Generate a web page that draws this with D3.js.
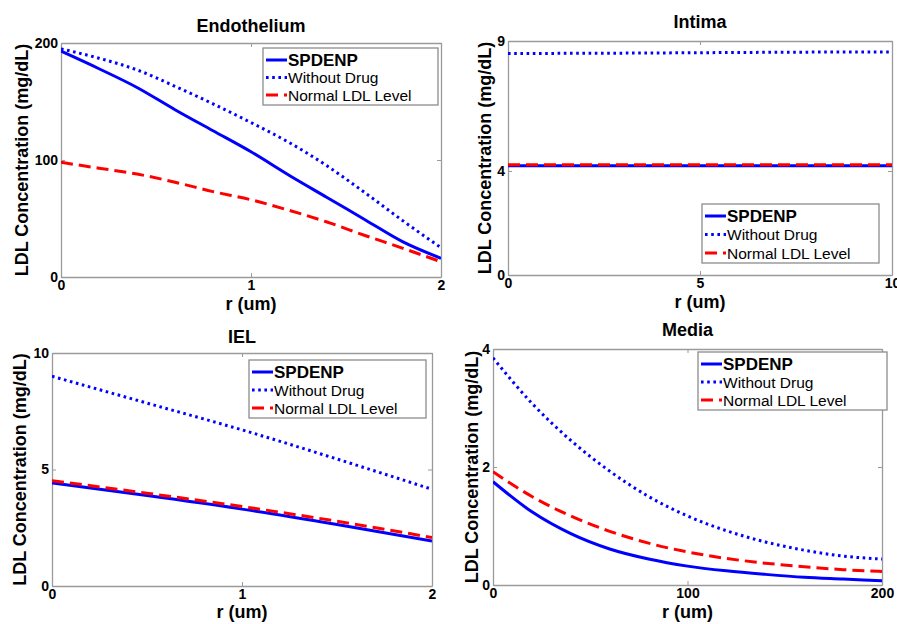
<!DOCTYPE html>
<html>
<head>
<meta charset="utf-8">
<title>LDL Concentration</title>
<style>
body { margin: 0; background: #fff; }
svg { display: block; }
text { font-family: "Liberation Sans", Arial, sans-serif; fill: #000; }
</style>
<script src="https://d3js.org/d3.v7.min.js"></script>
</head>
<body>
<svg id="chart" width="897" height="624"></svg>
<script>
// series names, shared by all four panels
const seriesNames = ["SPDENP", "Without Drug", "Normal LDL Level"];

// Endothelium, r in um
const endoR = [0, 0.2, 0.4, 0.6, 0.8, 1.0, 1.2, 1.4, 1.6, 1.8, 2.0];
const endoSpdenp = [193, 178, 162, 143, 125, 107, 87, 68, 49, 30, 16];
const endoNoDrug = [195, 187, 177, 163, 148, 132, 115, 95, 72, 48, 25];
const endoNormal = [98, 93, 88, 81, 73, 66, 57, 47, 35.5, 24.5, 13];

// Intima
const intimaR = [0, 2.5, 5, 7.5, 10];
const intimaSpdenp = [4.2, 4.2, 4.2, 4.2, 4.2];
const intimaNoDrug = [8.52, 8.53, 8.55, 8.57, 8.58];
const intimaNormal = [4.24, 4.24, 4.24, 4.24, 4.24];

// IEL
const ielR = [0, 0.5, 1, 1.5, 2];
const ielSpdenp = [4.42, 3.88, 3.3, 2.64, 1.93];
const ielNoDrug = [9.0, 7.85, 6.7, 5.45, 4.15];
const ielNormal = [4.52, 3.98, 3.41, 2.78, 2.08];

// Media
const mediaR = [0, 20, 40, 60, 80, 100, 120, 140, 160, 180, 200];
const mediaSpdenp = [1.75, 1.24, 0.87, 0.61, 0.44, 0.32, 0.24, 0.18, 0.13, 0.10, 0.07];
const mediaNoDrug = [3.85, 3.08, 2.45, 1.93, 1.50, 1.17, 0.92, 0.73, 0.59, 0.49, 0.44];
const mediaNormal = [1.92, 1.50, 1.17, 0.91, 0.71, 0.56, 0.45, 0.37, 0.31, 0.26, 0.23];

// tick labels
const endoXTicks = [0, 1, 2], endoYTicks = [0, 100, 200];
const intimaXTicks = [0, 5, 10], intimaYTicks = [0, 4, 9];
const ielXTicks = [0, 1, 2], ielYTicks = [0, 5, 10];
const mediaXTicks = [0, 100, 200], mediaYTicks = [0, 2, 4];

const styles = [
    { color: "#0000ff", dash: null },
    { color: "#0000ff", dash: "2.6,3.6" },
    { color: "#ff0000", dash: "12,6" }
];

const panels = [
    { title: "Endothelium", r: endoR, ys: [endoSpdenp, endoNoDrug, endoNormal],
      xDom: [0, 2], yDom: [0, 200], xt: endoXTicks, yt: endoYTicks,
      box: [61, 43, 441, 277], titleY: 26, xlabY: 304, ylabX: 22, leg: [263, 48, 175, 57] },
    { title: "Intima", r: intimaR, ys: [intimaSpdenp, intimaNoDrug, intimaNormal],
      xDom: [0, 10], yDom: [0, 9], xt: intimaXTicks, yt: intimaYTicks,
      box: [508, 41, 892, 275], titleY: 22, xlabY: 302, ylabX: 485, leg: [702, 204, 177, 59] },
    { title: "IEL", r: ielR, ys: [ielSpdenp, ielNoDrug, ielNormal],
      xDom: [0, 2], yDom: [0, 10], xt: ielXTicks, yt: ielYTicks,
      box: [52, 353, 432, 586], titleY: 337, xlabY: 612, ylabX: 20, leg: [249, 360, 177, 58] },
    { title: "Media", r: mediaR, ys: [mediaSpdenp, mediaNoDrug, mediaNormal],
      xDom: [0, 200], yDom: [0, 4], xt: mediaXTicks, yt: mediaYTicks,
      box: [493, 349, 882, 585], titleY: 330, xlabY: 612, ylabX: 472, leg: [698, 352, 189, 58] }
];

const svg = d3.select("#chart");
const fmt = d3.format("d");

panels.forEach((p, pi) => {
    const [x0, y0, x1, y1] = p.box;
    const x = d3.scaleLinear().domain(p.xDom).range([x0, x1]);
    const y = d3.scaleLinear().domain(p.yDom).range([y1, y0]);
    const g = svg.append("g");

    // clip so lines stay inside the axes
    g.append("clipPath").attr("id", "clip" + pi)
        .append("rect").attr("x", x0).attr("y", y0).attr("width", x1 - x0).attr("height", y1 - y0);

    // axes (MATLAB style, inward ticks, mirrored)
    const axB = d3.axisBottom(x).tickValues(p.xt).tickFormat(fmt).tickSizeInner(-4).tickSizeOuter(0).tickPadding(3);
    const axT = d3.axisTop(x).tickValues(p.xt).tickSizeInner(-4).tickSizeOuter(0).tickFormat("");
    const axL = d3.axisLeft(y).tickValues(p.yt).tickFormat(fmt).tickSizeInner(-4).tickSizeOuter(0).tickPadding(3);
    const axR = d3.axisRight(y).tickValues(p.yt).tickSizeInner(-4).tickSizeOuter(0).tickFormat("");

    [[axB, `translate(0,${y1})`], [axT, `translate(0,${y0})`],
     [axL, `translate(${x0},0)`], [axR, `translate(${x1},0)`]].forEach(([ax, tr]) => {
        const a = g.append("g").attr("transform", tr).call(ax);
        a.select(".domain").attr("stroke", "#9a9a9a").attr("stroke-width", 1.3);
        a.selectAll(".tick line").attr("stroke", "#9a9a9a");
        a.selectAll("text").attr("font-family", "Liberation Sans, Arial, sans-serif")
            .attr("font-size", 14).attr("font-weight", "bold").attr("fill", "#000");
    });

    // lines
    const line = d3.line().x(d => x(d[0])).y(d => y(d[1])).curve(d3.curveMonotoneX);
    p.ys.forEach((vals, si) => {
        const pts = p.r.map((r, i) => [r, vals[i]]);
        g.append("path")
            .attr("d", line(pts))
            .attr("clip-path", `url(#clip${pi})`)
            .attr("fill", "none")
            .attr("stroke", styles[si].color)
            .attr("stroke-width", 3)
            .attr("stroke-dasharray", styles[si].dash);
    });

    // titles and labels
    g.append("text").attr("x", (x0 + x1) / 2).attr("y", p.titleY).attr("dy", "0.35em")
        .attr("text-anchor", "middle").attr("font-size", 18).attr("font-weight", "bold").text(p.title);
    g.append("text").attr("x", (x0 + x1) / 2).attr("y", p.xlabY).attr("dy", "0.35em")
        .attr("text-anchor", "middle").attr("font-size", 18).attr("font-weight", "bold").text("r (um)");
    g.append("text").attr("transform", `translate(${p.ylabX},${(y0 + y1) / 2}) rotate(-90)`)
        .attr("dy", "0.35em").attr("text-anchor", "middle")
        .attr("font-size", 18).attr("font-weight", "bold").text("LDL Concentration (mg/dL)");

    // legend
    const [lx, ly, lw, lh] = p.leg;
    const lg = g.append("g");
    lg.append("rect").attr("x", lx).attr("y", ly).attr("width", lw).attr("height", lh)
        .attr("fill", "#fff").attr("stroke", "#8c8c8c").attr("stroke-width", 1.3);
    const rowY = d3.scalePoint().domain(seriesNames).range([ly + 12, ly + lh - 10]);
    seriesNames.forEach((name, si) => {
        const ry = rowY(name);
        lg.append("line").attr("x1", lx + 3).attr("x2", lx + 24).attr("y1", ry).attr("y2", ry)
            .attr("stroke", styles[si].color).attr("stroke-width", 3)
            .attr("stroke-dasharray", styles[si].dash);
        const t = lg.append("text").attr("x", lx + 25).attr("y", ry).attr("dy", "0.36em").text(name);
        if (si === 0) {
            t.attr("font-family", "Lato, 'Open Sans', sans-serif").attr("font-weight", "bold").attr("font-size", 17);
        } else {
            t.attr("font-size", 15.5);
        }
    });
});
</script>
</body>
</html>
